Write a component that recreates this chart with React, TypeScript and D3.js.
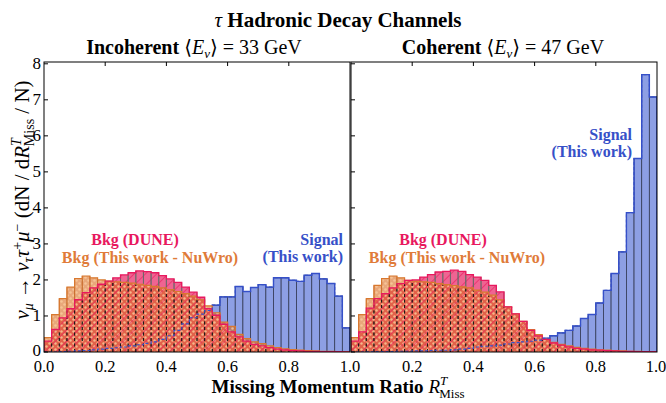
import React from "react";
import * as d3 from "d3";

const NBINS = 40;
const binEdges = d3.range(NBINS + 1).map((i) => i / NBINS);

const incSignal = [0, 0, 0.01, 0.02, 0.03, 0.04, 0.06, 0.08, 0.1, 0.12, 0.14, 0.17, 0.2, 0.24, 0.28, 0.35, 0.45, 0.6, 0.78, 0.95, 1.05, 1.15, 1.3, 1.53, 1.53, 1.82, 1.68, 1.79, 1.87, 1.8, 2.06, 2.06, 1.99, 1.96, 2.13, 2.18, 2.03, 1.9, 1.55, 0.67];
const incDune = [0.3, 0.63, 0.95, 1.2, 1.45, 1.65, 1.78, 1.88, 1.97, 2.06, 2.14, 2.2, 2.25, 2.23, 2.2, 2.12, 2.03, 1.93, 1.8, 1.66, 1.52, 1.2, 1.02, 0.77, 0.56, 0.42, 0.3, 0.21, 0.17, 0.12, 0.08, 0.06, 0.04, 0.03, 0.02, 0.02, 0.01, 0.01, 0.01, 0.005];
const incNuwro = [0.4, 1.04, 1.48, 1.8, 2.04, 2.11, 2.06, 2.0, 1.97, 1.95, 1.93, 1.91, 1.88, 1.85, 1.82, 1.78, 1.73, 1.68, 1.62, 1.55, 1.45, 1.28, 1.09, 0.83, 0.71, 0.49, 0.37, 0.28, 0.23, 0.17, 0.12, 0.09, 0.07, 0.05, 0.04, 0.03, 0.02, 0.02, 0.01, 0.01];

const cohSignal = [0, 0, 0.005, 0.01, 0.01, 0.015, 0.02, 0.02, 0.03, 0.03, 0.04, 0.05, 0.05, 0.06, 0.08, 0.1, 0.14, 0.16, 0.17, 0.19, 0.22, 0.26, 0.28, 0.3, 0.33, 0.38, 0.45, 0.53, 0.6, 0.72, 0.93, 1.04, 1.36, 1.71, 2.18, 2.78, 3.87, 5.37, 7.7, 7.08];
const cohDune = [0.3, 0.56, 1.22, 1.48, 1.62, 1.78, 1.9, 1.99, 2.0, 2.08, 2.15, 2.22, 2.24, 2.27, 2.24, 2.15, 2.08, 1.99, 1.85, 1.67, 1.25, 1.06, 0.85, 0.6, 0.45, 0.35, 0.25, 0.19, 0.14, 0.1, 0.08, 0.06, 0.05, 0.04, 0.03, 0.02, 0.02, 0.01, 0.01, 0.01];
const cohNuwro = [0.4, 1.04, 1.48, 1.85, 2.04, 2.11, 2.06, 1.99, 1.97, 1.95, 1.93, 1.9, 1.87, 1.84, 1.81, 1.78, 1.72, 1.66, 1.58, 1.45, 1.25, 1.06, 0.85, 0.62, 0.48, 0.36, 0.27, 0.21, 0.17, 0.13, 0.1, 0.08, 0.06, 0.05, 0.04, 0.03, 0.02, 0.02, 0.01, 0.01];

const xTicks = [0, 0.2, 0.4, 0.6, 0.8, 1.0];
const yTicks = [0, 1, 2, 3, 4, 5, 6, 7, 8];

const FONT = "'Liberation Serif', 'DejaVu Serif', serif";
const C_SIG_FILL = "#8d9fe4";
const C_SIG_EDGE = "#3650c8";
const C_DUNE = "#e8185e";
const C_NUWRO = "#e07b39";

const y = d3.scaleLinear().domain([0, 8.05]).range([352, 62]);

function stepPath(x: d3.ScaleLinear<number, number>, vals: number[]) {
  let p = `M${x(0)},${y(0)}`;
  vals.forEach((v, i) => {
    p += `L${x(binEdges[i])},${y(v)}L${x(binEdges[i + 1])},${y(v)}`;
  });
  p += `L${x(1)},${y(0)}`;
  return p;
}

function Bars({ x, vals, ...rest }: any) {
  return (
    <g>
      {vals.map((v: number, i: number) => (
        <rect key={i} x={x(binEdges[i])} y={y(v)} width={x(binEdges[i + 1]) - x(binEdges[i])} height={y(0) - y(v)} {...rest} />
      ))}
    </g>
  );
}

function Panel({ id, x, sig, dune, nuwro, showYLabels, firstLabel }: any) {
  const x0 = x(0);
  const x1 = x(1);
  return (
    <g>
      <defs>
        <clipPath id={`clip-${id}`}>
          <rect x={x0} y={y(8.05)} width={x1 - x0} height={y(0) - y(8.05)} />
        </clipPath>
      </defs>
      <g clipPath={`url(#clip-${id})`}>
        {/* signal */}
        <Bars x={x} vals={sig} fill={C_SIG_FILL} stroke="#333a55" strokeWidth={0.8} />
        <path d={stepPath(x, sig)} fill="none" stroke={C_SIG_EDGE} strokeWidth={1.4} />
        {/* DUNE fill */}
        <Bars x={x} vals={dune} fill="rgb(239,100,146)" />
        {/* NuWro fill (translucent) */}
        <Bars x={x} vals={nuwro} fill="rgb(215,95,12)" fillOpacity={0.55} />
        <Bars x={x} vals={nuwro} fill="url(#dots)" />
        {/* DUNE hatch */}
        <Bars x={x} vals={dune} fill="url(#hatch)" />
        {/* bin separators */}
        {dune.map((v: number, i: number) => {
          const o = nuwro[i];
          const lo = Math.min(o, v);
          const xs = [x(binEdges[i]), x(binEdges[i + 1])];
          return (
            <g key={`e${i}`}>
              {xs.map((xx, k) => (
                <g key={k}>
                  <line x1={xx} x2={xx} y1={y(0)} y2={y(lo)} stroke="#111" strokeWidth={0.8} strokeDasharray="3,2.5" />
                  {v > o && <line x1={xx} x2={xx} y1={y(o)} y2={y(v)} stroke="#666" strokeWidth={0.8} />}
                  {o > v && <line x1={xx} x2={xx} y1={y(v)} y2={y(o)} stroke="#c86a2a" strokeWidth={0.8} />}
                </g>
              ))}
            </g>
          );
        })}
        <path d={stepPath(x, nuwro)} fill="none" stroke="#d8782f" strokeWidth={1.2} />
        <path d={stepPath(x, dune)} fill="none" stroke={C_DUNE} strokeWidth={1.3} />
        <path d={stepPath(x, sig)} fill="none" stroke={C_SIG_EDGE} strokeWidth={1.1} strokeDasharray="3,2" />
      </g>
      {/* frame */}
      <rect x={x0} y={y(8.05)} width={x1 - x0} height={y(0) - y(8.05)} fill="none" stroke="#000" strokeWidth={1} />
      {/* ticks */}
      {yTicks.map((t) => (
        <line key={`yt${t}`} x1={x0} x2={x0 + 4} y1={y(t)} y2={y(t)} stroke="#000" strokeWidth={1} />
      ))}
      {xTicks.slice(1, -1).map((t) => (
        <line key={`xt${t}`} x1={x(t)} x2={x(t)} y1={y(8.05)} y2={y(8.05) + 4} stroke="#000" strokeWidth={1} />
      ))}
      {/* tick labels */}
      {(firstLabel ? xTicks : xTicks.slice(1)).map((t) => (
        <text key={`xl${t}`} x={t === 1 && !firstLabel ? x(t) - 1 : x(t)} y={372} textAnchor="middle" fontSize={16.5} fontFamily={FONT}>
          {d3.format(".1f")(t)}
        </text>
      ))}
      {showYLabels &&
        yTicks.map((t) => (
          <text key={`yl${t}`} x={x0 - 3} y={y(t) + (t === 0 ? 3.5 : 5)} textAnchor="end" fontSize={17} fontFamily={FONT}>
            {t}
          </text>
        ))}
    </g>
  );
}

export default function App() {
  const xL = d3.scaleLinear().domain([0, 1]).range([44, 350]);
  const xR = d3.scaleLinear().domain([0, 1]).range([351, 657]);
  return (
    <svg width={666} height={403} style={{ display: "block", position: "absolute", left: 0, top: 0 }} fontFamily={FONT}>
      <defs>
        <pattern id="dots" patternUnits="userSpaceOnUse" width={6} height={6}>
          <circle cx={1.5} cy={1.5} r={1.2} fill="#f9cc9c" fillOpacity={0.8} />
          <circle cx={4.5} cy={4.5} r={1.2} fill="#f9cc9c" fillOpacity={0.8} />
        </pattern>
        <pattern id="hatch" patternUnits="userSpaceOnUse" width={8} height={8} patternTransform="rotate(45)">
          <line x1={0} y1={0} x2={0} y2={8} stroke={C_DUNE} strokeWidth={1.2} />
        </pattern>
      </defs>
      <rect x={0} y={0} width={666} height={403} fill="#fff" />
      <Panel id="inc" x={xL} sig={incSignal} dune={incDune} nuwro={incNuwro} showYLabels={true} firstLabel={true} />
      <Panel id="coh" x={xR} sig={cohSignal} dune={cohDune} nuwro={cohNuwro} showYLabels={false} firstLabel={false} />

      {/* title */}
      <text x={338} y={27} textAnchor="middle" fontSize={21} fontWeight="bold">
        <tspan fontStyle="italic" fontWeight="normal">τ</tspan> Hadronic Decay Channels
      </text>
      <text x={194} y={54} textAnchor="middle" fontSize={20}>
        <tspan fontWeight="bold">Incoherent</tspan> ⟨<tspan fontStyle="italic">E</tspan>
        <tspan fontStyle="italic" fontSize={13} dy={4}>ν</tspan>
        <tspan dy={-4}>⟩ = 33 GeV</tspan>
      </text>
      <text x={503} y={54} textAnchor="middle" fontSize={20}>
        <tspan fontWeight="bold">Coherent</tspan> ⟨<tspan fontStyle="italic">E</tspan>
        <tspan fontStyle="italic" fontSize={13} dy={4}>ν</tspan>
        <tspan dy={-4}>⟩ = 47 GeV</tspan>
      </text>

      {/* x label */}
      <text x={338} y={393} textAnchor="middle" fontSize={19} fontWeight="bold">
        Missing Momentum Ratio <tspan fontStyle="italic" fontWeight="normal">R</tspan>
        <tspan fontStyle="italic" fontWeight="normal" fontSize={13} dy={-8}>T</tspan>
        <tspan fontWeight="normal" fontSize={13} dx={-8} dy={13}>Miss</tspan>
      </text>

      {/* y label */}
      <text transform="translate(29,200) rotate(-90)" textAnchor="middle" fontSize={21}>
        <tspan fontStyle="italic">ν</tspan>
        <tspan fontStyle="italic" fontSize={14} dy={4}>μ</tspan>
        <tspan dy={-4}> → </tspan>
        <tspan fontStyle="italic">ν</tspan>
        <tspan fontStyle="italic" fontSize={14} dy={4}>τ</tspan>
        <tspan fontStyle="italic" dy={-4}>τ</tspan>
        <tspan fontSize={14} dy={-7}>+</tspan>
        <tspan fontStyle="italic" dy={7}>μ</tspan>
        <tspan fontSize={14} dy={-7}>−</tspan>
        <tspan dy={7}> (dN / d</tspan>
        <tspan fontStyle="italic">R</tspan>
        <tspan fontStyle="italic" fontSize={14} dy={-8}>T</tspan>
        <tspan fontSize={14} dx={-8} dy={13}>Miss</tspan>
        <tspan dy={-5}> / N)</tspan>
      </text>

      {/* annotations - incoherent */}
      <text x={135} y={245} textAnchor="middle" fontSize={16} fontWeight="bold" fill={C_DUNE}>Bkg (DUNE)</text>
      <text x={150} y={263} textAnchor="middle" fontSize={16} fontWeight="bold" fill={C_NUWRO}>Bkg (This work - NuWro)</text>
      <text x={343} y={245} textAnchor="end" fontSize={16} fontWeight="bold" fill={C_SIG_EDGE}>Signal</text>
      <text x={343} y={262} textAnchor="end" fontSize={16} fontWeight="bold" fill={C_SIG_EDGE}>(This work)</text>

      {/* annotations - coherent */}
      <text x={443} y={245} textAnchor="middle" fontSize={16} fontWeight="bold" fill={C_DUNE}>Bkg (DUNE)</text>
      <text x={457} y={263} textAnchor="middle" fontSize={16} fontWeight="bold" fill={C_NUWRO}>Bkg (This work - NuWro)</text>
      <text x={632} y={140} textAnchor="end" fontSize={16} fontWeight="bold" fill={C_SIG_EDGE}>Signal</text>
      <text x={632} y={157} textAnchor="end" fontSize={16} fontWeight="bold" fill={C_SIG_EDGE}>(This work)</text>
    </svg>
  );
}
